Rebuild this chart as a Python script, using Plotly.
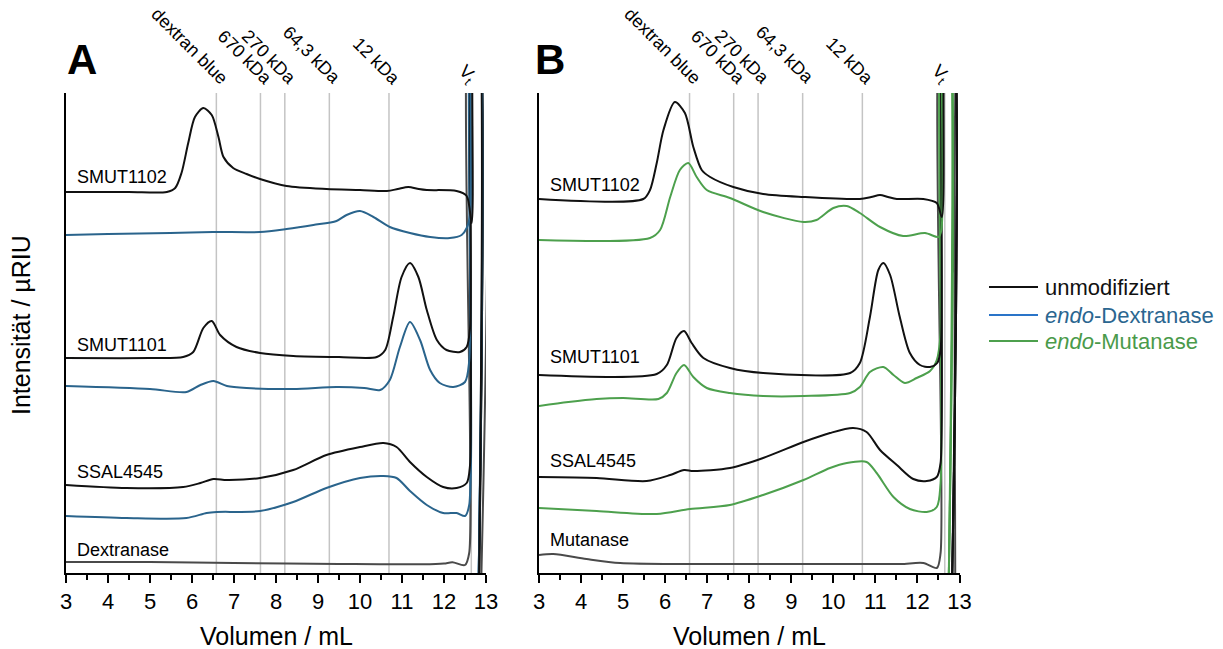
import plotly.graph_objects as go

# ---------------- data (volume in mL, signal in arbitrary offset units) ----------------
A_SMUT1102_unmod_x = [3.0, 4.5, 5.4, 5.6, 5.75, 5.91, 6.07, 6.27, 6.47, 6.63, 6.75, 6.98, 7.3, 7.62, 8.25, 9.2, 10.0, 10.64, 10.9, 11.15, 11.4, 11.59, 12.3, 12.54, 12.66, 12.73, 12.78, 12.83]
A_SMUT1102_unmod_y = [381, 381, 381, 385, 400, 430, 456, 465, 458, 436, 416, 405, 399, 394, 387, 384, 383, 382, 384, 386, 384, 383, 382, 377, 350, 600, 600, -20]
A_SMUT1102_dex_x = [3.0, 4.0, 5.48, 6.5, 7.62, 8.25, 8.89, 9.44, 9.68, 10.0, 10.32, 10.71, 11.19, 11.67, 12.14, 12.42, 12.54, 12.62, 12.70, 12.77, 12.82]
A_SMUT1102_dex_y = [338, 339, 340, 341, 341, 344, 348, 352, 358, 362, 356, 346, 340, 336, 335, 338, 345, 358, 600, 600, -20]

A_SMUT1101_unmod_x = [3.0, 5.0, 5.79, 6.03, 6.27, 6.47, 6.67, 7.06, 7.62, 8.41, 9.5, 10.4, 10.6, 10.79, 10.99, 11.19, 11.39, 11.59, 11.83, 12.06, 12.38, 12.54, 12.62, 12.71, 12.78, 12.83]
A_SMUT1101_unmod_y = [215, 215, 216, 221, 245, 252, 238, 226, 220, 217, 216, 216, 223, 256, 296, 310, 296, 263, 233, 223, 221, 226, 245, 600, 600, -20]
A_SMUT1101_dex_x = [3.0, 5.0, 5.87, 6.2, 6.51, 6.83, 7.3, 8.41, 9.44, 10.1, 10.48, 10.71, 10.95, 11.19, 11.43, 11.67, 11.9, 12.22, 12.5, 12.6, 12.69, 12.77, 12.82]
A_SMUT1101_dex_y = [187, 184, 181, 188, 192, 187, 185, 184, 186, 185, 183, 193, 226, 251, 233, 203, 190, 186, 191, 212, 600, 600, -20]

A_SSAL4545_unmod_x = [3.0, 4.44, 5.79, 6.2, 6.51, 6.83, 7.62, 8.41, 9.2, 10.0, 10.56, 10.87, 11.19, 11.59, 11.98, 12.3, 12.54, 12.62, 12.71, 12.78, 12.83]
A_SSAL4545_unmod_y = [88, 85, 86, 90, 94, 93, 95, 103, 118, 126, 130, 126, 111, 96, 86, 85, 90, 108, 600, 600, -20]
A_SSAL4545_dex_x = [3.0, 4.44, 5.87, 6.35, 6.59, 7.62, 8.41, 9.2, 10.0, 10.56, 10.87, 11.19, 11.59, 11.98, 12.3, 12.5, 12.6, 12.69, 12.77, 12.82]
A_SSAL4545_dex_y = [57, 55, 55, 60, 61, 62, 71, 85, 95, 97, 95, 82, 68, 60, 60, 57, 68, 600, 600, -20]

A_enzyme_x = [3.0, 5.0, 7.0, 9.5, 11.5, 12.0, 12.2, 12.5, 12.6, 12.67, 12.84, 12.88]
A_enzyme_y = [11, 11, 10, 9, 8.7, 9.5, 10.7, 8, 20, 600, 600, -20]

B_SMUT1102_unmod_x = [3.0, 5.48, 5.64, 5.8, 5.96, 6.23, 6.47, 6.67, 6.87, 7.07, 7.62, 8.33, 9.29, 10.63, 10.9, 11.11, 11.3, 11.51, 12.14, 12.46, 12.58, 12.70, 12.78, 12.82]
B_SMUT1102_unmod_y = [374, 374, 383, 410, 443, 471, 460, 426, 403, 396, 386, 379, 376, 374, 376, 378, 376, 374, 374, 370, 356, 600, 600, -20]
B_SMUT1102_mut_x = [3.0, 5.64, 5.88, 6.12, 6.35, 6.55, 6.75, 6.99, 7.54, 8.33, 9.29, 9.6, 10.0, 10.32, 10.63, 11.11, 11.66, 12.18, 12.5, 12.57, 12.64, 12.70, 12.74]
B_SMUT1102_mut_y = [333, 335, 343, 376, 403, 410, 396, 383, 375, 361, 351, 353, 365, 367, 360, 346, 337, 340, 336, 343, 600, 600, -20]

B_SMUT1101_unmod_x = [3.0, 5.8, 6.04, 6.27, 6.45, 6.63, 6.91, 7.54, 8.33, 10.4, 10.63, 10.87, 11.07, 11.19, 11.35, 11.58, 11.82, 12.06, 12.3, 12.47, 12.55, 12.68, 12.78, 12.82]
B_SMUT1101_unmod_y = [198, 199, 208, 235, 242, 230, 215, 205, 200, 200, 210, 256, 303, 310, 298, 256, 220, 208, 206, 210, 223, 600, 600, -20]
B_SMUT1101_mut_x = [3.0, 3.7, 4.37, 5.0, 5.84, 6.04, 6.27, 6.45, 6.67, 6.99, 7.54, 8.33, 9.29, 10.4, 10.63, 10.87, 11.19, 11.43, 11.7, 11.98, 12.3, 12.46, 12.55, 12.62, 12.70, 12.74]
B_SMUT1101_mut_y = [167, 171, 174, 175, 174, 180, 200, 208, 196, 185, 180, 177, 177, 180, 186, 201, 206, 198, 190, 195, 202, 213, 240, 600, 600, -20]

B_SSAL4545_unmod_x = [3.0, 4.37, 5.56, 6.12, 6.45, 6.67, 7.54, 8.33, 9.29, 9.92, 10.47, 10.79, 11.11, 11.51, 11.9, 12.22, 12.46, 12.55, 12.68, 12.78, 12.82]
B_SSAL4545_unmod_y = [96, 95, 92, 98, 103, 102, 105, 115, 131, 140, 145, 141, 123, 108, 94, 92, 96, 110, 600, 600, -20]
B_SSAL4545_mut_x = [3.0, 4.37, 5.8, 6.59, 7.54, 8.33, 9.29, 9.92, 10.32, 10.79, 11.03, 11.43, 11.82, 12.22, 12.46, 12.55, 12.62, 12.70, 12.74]
B_SSAL4545_mut_y = [65, 62, 59, 64, 68, 78, 93, 105, 110, 111, 100, 76, 64, 61, 66, 90, 600, 600, -20]

B_enzyme_x = [3.0, 3.34, 4.13, 4.93, 6.51, 8.1, 10.4, 11.6, 12.14, 12.46, 12.55, 12.62, 12.78, 12.83, 12.87, 12.90]
B_enzyme_y = [18, 19, 14, 10, 9, 9, 9, 9, 10, 5, 20, 600, 600, 300, 441, -20]

calib_x = [6.58, 7.63, 8.21, 9.27, 10.69]
calib_labels = ["dextran blue", "670 kDa", "270 kDa", "64,3 kDa", "12 kDa"]
vt_x = 12.65
vt_label = "V<sub>t</sub>"

sample_labels_A = ["SMUT1102", "SMUT1101", "SSAL4545", "Dextranase"]
sample_label_y_A = [396, 228, 101, 23]
sample_labels_B = ["SMUT1102", "SMUT1101", "SSAL4545", "Mutanase"]
sample_label_y_B = [388, 216, 112, 33]

legend_names = ["unmodifiziert", "<i>endo</i>-Dextranase", "<i>endo</i>-Mutanase"]
legend_line_colors = ["#111111", "#2a74c8", "#4da04d"]
legend_text_colors = ["#111111", "#2b6690", "#4a9a4a"]

# ---------------- styling ----------------
FONT = "Arial, Liberation Sans, sans-serif"
BLACK = "#111111"
BLUE = "#2a648c"
GREEN = "#4da04d"
GRAY = "#4a4a4a"
CAL = "#c4c4c4"

W, H = 1223, 649
def px_x(p): return p / W
def px_y(p): return 1 - p / H

fig = go.Figure()

def add(x, y, color, xa, ya, width=2):
    fig.add_trace(go.Scatter(x=x, y=y, mode="lines", xaxis=xa, yaxis=ya,
                             line=dict(color=color, width=width, shape="spline", smoothing=0.8),
                             showlegend=False, hoverinfo="skip"))

add(A_enzyme_x, A_enzyme_y, GRAY, "x", "y")
add(A_SSAL4545_dex_x, A_SSAL4545_dex_y, BLUE, "x", "y")
add(A_SSAL4545_unmod_x, A_SSAL4545_unmod_y, BLACK, "x", "y")
add(A_SMUT1101_dex_x, A_SMUT1101_dex_y, BLUE, "x", "y")
add(A_SMUT1101_unmod_x, A_SMUT1101_unmod_y, BLACK, "x", "y")
add(A_SMUT1102_dex_x, A_SMUT1102_dex_y, BLUE, "x", "y")
add(A_SMUT1102_unmod_x, A_SMUT1102_unmod_y, BLACK, "x", "y")

add(B_enzyme_x, B_enzyme_y, GRAY, "x2", "y2")
add(B_SSAL4545_mut_x, B_SSAL4545_mut_y, GREEN, "x2", "y2")
add(B_SSAL4545_unmod_x, B_SSAL4545_unmod_y, BLACK, "x2", "y2")
add(B_SMUT1101_mut_x, B_SMUT1101_mut_y, GREEN, "x2", "y2")
add(B_SMUT1101_unmod_x, B_SMUT1101_unmod_y, BLACK, "x2", "y2")
add(B_SMUT1102_mut_x, B_SMUT1102_mut_y, GREEN, "x2", "y2")
add(B_SMUT1102_unmod_x, B_SMUT1102_unmod_y, BLACK, "x2", "y2")

ydom = [px_y(573), px_y(93)]
xcommon = dict(range=[3, 13], showline=True, linecolor="black", linewidth=1.5,
               ticks="outside", ticklen=8, tickwidth=1.5, tickcolor="black",
               dtick=1, tick0=3, showgrid=False, zeroline=False, automargin=False,
               minor=dict(ticks="outside", ticklen=5, tickwidth=1.5, tickcolor="black", dtick=0.5),
               tickfont=dict(family=FONT, size=22, color="black"))
ycommon = dict(range=[0, 480], showline=True, linecolor="black", linewidth=1.5, automargin=False,
               showticklabels=False, ticks="", showgrid=False, zeroline=False, domain=ydom)

fig.update_layout(
    width=W, height=H, margin=dict(l=0, r=0, t=0, b=0),
    paper_bgcolor="white", plot_bgcolor="white", showlegend=False,
    font=dict(family=FONT, color="black"),
    xaxis=dict(domain=[px_x(66), px_x(486)], anchor="y", **xcommon),
    yaxis=dict(anchor="x", **ycommon),
    xaxis2=dict(domain=[px_x(539), px_x(959.5)], anchor="y2", **xcommon),
    yaxis2=dict(anchor="x2", **ycommon),
)

shapes = []
annotations = []
for xr, yr, labels, label_ys in [("x", "y", sample_labels_A, sample_label_y_A),
                                  ("x2", "y2", sample_labels_B, sample_label_y_B)]:
    for cx in calib_x + [vt_x]:
        shapes.append(dict(type="line", xref=xr, yref=yr + " domain", x0=cx, x1=cx, y0=0, y1=1,
                           line=dict(color=CAL, width=1.5), layer="below"))
    for cx, lab in zip(calib_x, calib_labels):
        annotations.append(dict(x=cx, xref=xr, y=px_y(91), yref="paper", text=lab, showarrow=False,
                                textangle=45, xanchor="right", yanchor="bottom", xshift=18,
                                font=dict(size=18, family=FONT, color="black")))
    annotations.append(dict(x=vt_x, xref=xr, y=px_y(91), yref="paper", text=vt_label, showarrow=False,
                            textangle=45, xanchor="right", yanchor="bottom", xshift=12,
                            font=dict(size=18, family=FONT, color="black")))
    for lab, ly in zip(labels, label_ys):
        annotations.append(dict(x=3.22, xref=xr, y=ly, yref=yr, text=lab, showarrow=False,
                                xanchor="left", yanchor="middle",
                                font=dict(size=18, family=FONT, color="black")))
    annotations.append(dict(x=8, xref=xr, y=px_y(636), yref="paper", text="Volumen / mL",
                            showarrow=False, xanchor="center", yanchor="middle",
                            font=dict(size=25, family=FONT, color="black")))

annotations.append(dict(x=px_x(82), y=px_y(59), xref="paper", yref="paper", text="<b>A</b>",
                        showarrow=False, xanchor="center", yanchor="middle",
                        font=dict(size=42, family=FONT, color="black")))
annotations.append(dict(x=px_x(550), y=px_y(59), xref="paper", yref="paper", text="<b>B</b>",
                        showarrow=False, xanchor="center", yanchor="middle",
                        font=dict(size=42, family=FONT, color="black")))
annotations.append(dict(x=px_x(21), y=px_y(325), xref="paper", yref="paper", text="Intensität / µRIU",
                        showarrow=False, textangle=-90, xanchor="center", yanchor="middle",
                        font=dict(size=25, family=FONT, color="black")))

legend_y_px = [287, 315, 341]
for name, lc, tc, ly in zip(legend_names, legend_line_colors, legend_text_colors, legend_y_px):
    shapes.append(dict(type="line", xref="paper", yref="paper", x0=px_x(989), x1=px_x(1038),
                       y0=px_y(ly), y1=px_y(ly), line=dict(color=lc, width=2)))
    annotations.append(dict(x=px_x(1043), y=px_y(ly), xref="paper", yref="paper", text=name,
                            showarrow=False, xanchor="left", yanchor="middle",
                            font=dict(size=22, family=FONT, color=tc)))

fig.update_layout(shapes=shapes, annotations=annotations)
fig.write_html("out.html")
